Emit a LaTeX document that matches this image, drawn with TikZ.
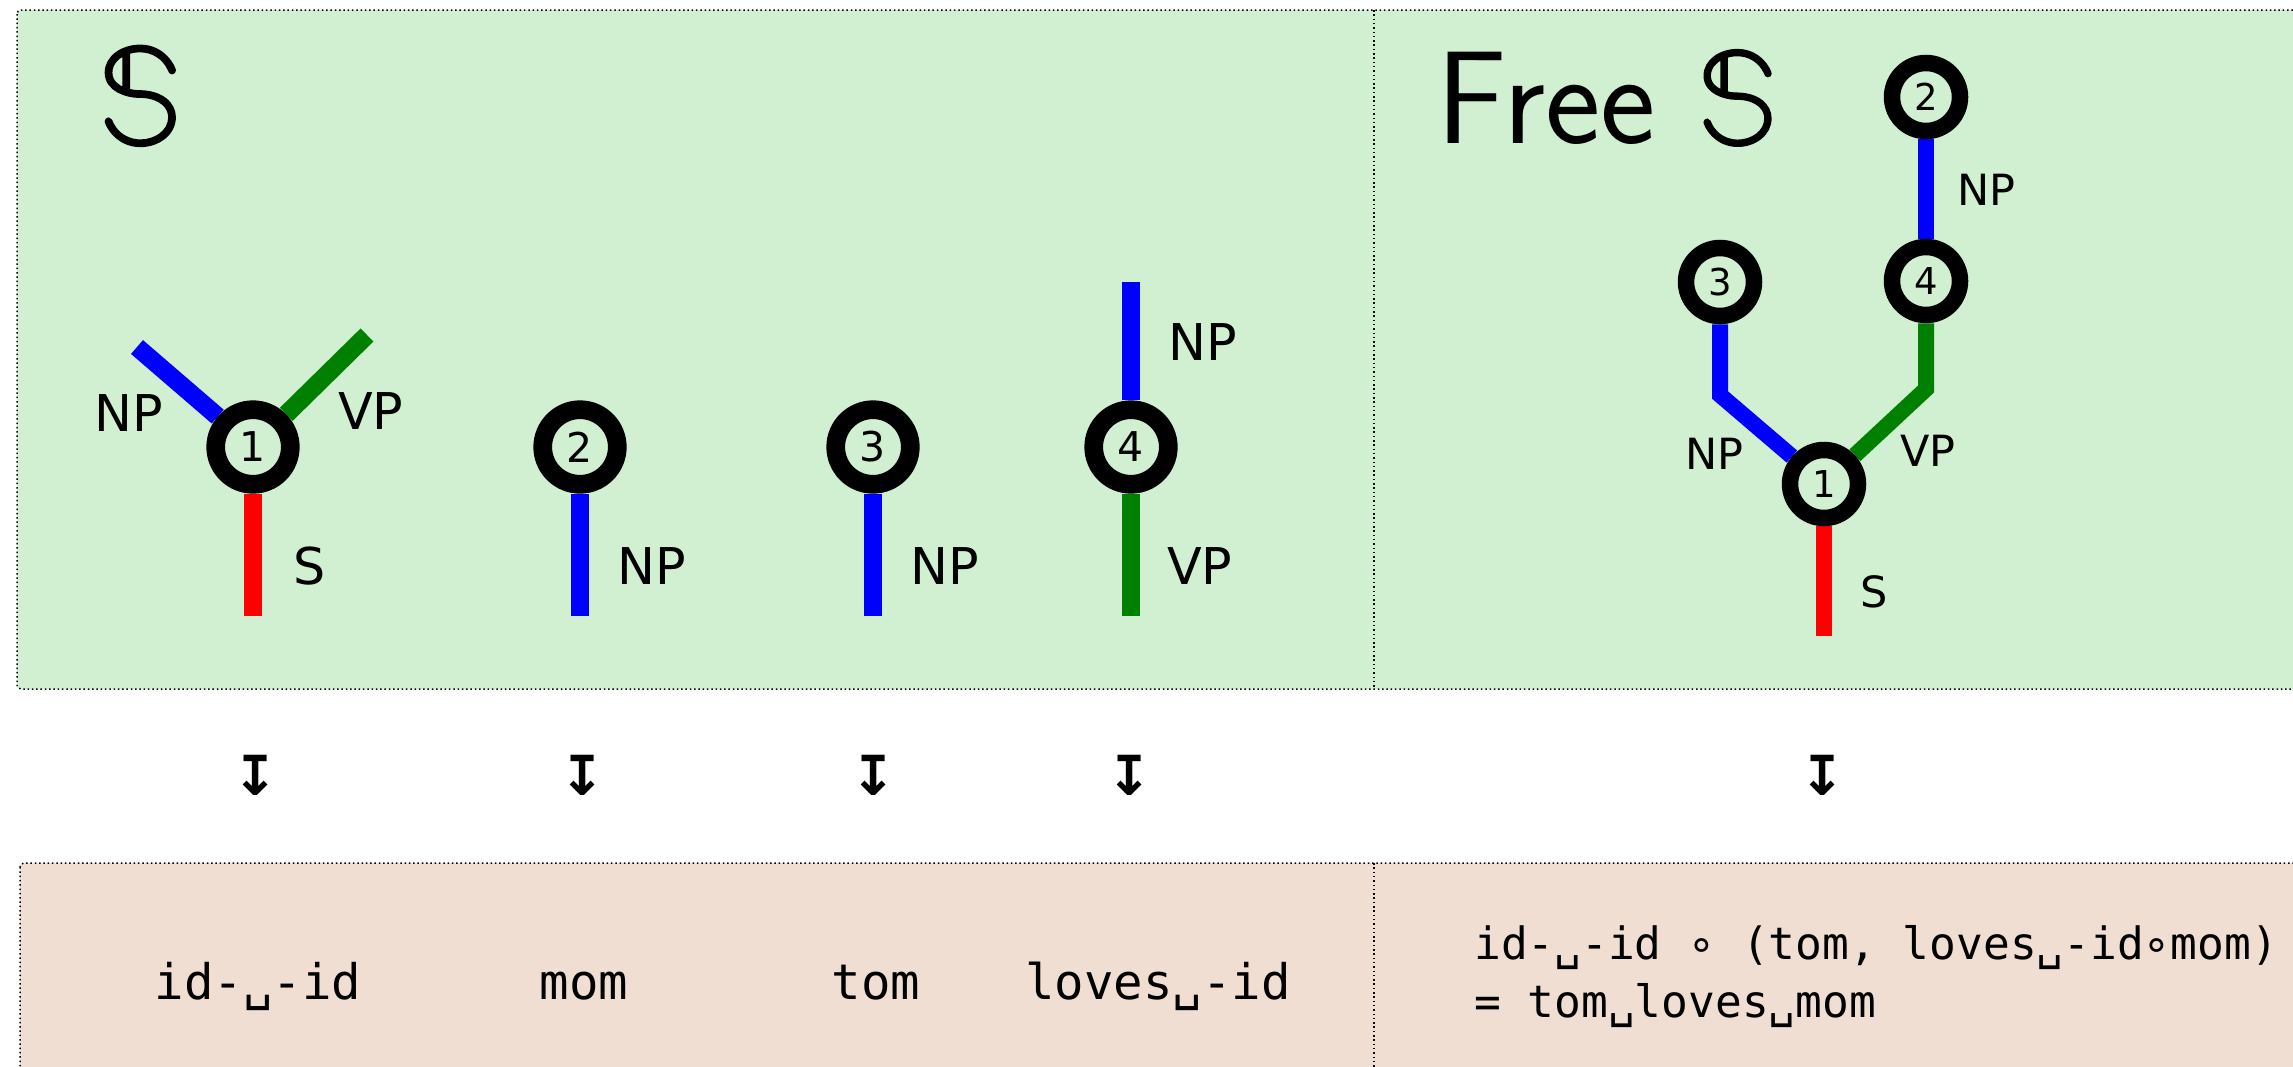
\documentclass[tikz,border=0pt]{standalone}
\usepackage{fontspec}
\newfontfamily\dvs{DejaVu Sans}
\newfontfamily\dvsm{DejaVu Sans Mono}
\newfontfamily\bbfont{Latin Modern Math}[FakeBold=1.6]
\definecolor{gbg}{RGB}{209,240,209}
\definecolor{pbg}{RGB}{240,222,210}
\definecolor{dgreen}{RGB}{0,128,0}
\pgfdeclarelayer{back}
\pgfdeclarelayer{mid}
\pgfsetlayers{back,mid,main}
\begin{document}
\begin{tikzpicture}[x=1pt,y=-1pt,
  ring/.style={circle,draw=black,fill=gbg,line width=18.7pt,minimum size=74.6pt,inner sep=0pt,font=\dvs\fontsize{41}{41}\selectfont},
  ringf/.style={circle,draw=black,fill=gbg,line width=16.5pt,minimum size=68pt,inner sep=0pt,font=\dvs\fontsize{37}{37}\selectfont},
  lbl/.style={inner sep=0pt,font=\dvs\fontsize{50.7}{50.7}\selectfont},
  lblf/.style={inner sep=0pt,font=\dvs\fontsize{43}{43}\selectfont},
  edge/.style={line width=18.3pt},
  edgef/.style={line width=16pt},
  box/.style={draw=black,line width=1.5pt,dash pattern=on 1.5pt off 2.8pt},
  arr/.style={inner sep=0pt,font=\dvs\bfseries\fontsize{55}{55}\selectfont},
  mono/.style={inner sep=0pt,anchor=base,font=\dvsm\fontsize{49}{49}\selectfont},
  monor/.style={inner sep=0pt,anchor=base west,font=\dvsm\fontsize{44.5}{44.5}\selectfont},
]
\useasboundingbox (0,0) rectangle (2293,1066);
\clip (0,0) rectangle (2293,1066);

% boxes
\begin{pgfonlayer}{back}
\draw[box,fill=gbg,rounded corners=4pt] (17,10) rectangle (2420,689);
\draw[box] (1374,10) -- (1374,689);
\draw[box,fill=pbg,rounded corners=4pt] (20,863) rectangle (2420,1200);
\draw[box] (1374,863) -- (1374,1200);
\end{pgfonlayer}

% titles
\node[anchor=base west,inner sep=0pt,font=\bbfont\fontsize{138}{138}\selectfont] (ts) at (98,143) {𝕊};
\node[anchor=base west,inner sep=0pt,font=\sffamily\fontsize{132}{132}\selectfont] (tf) at (1436,143) {Free {\bbfont 𝕊}};

% generators
\node[ring] (a1) at (253,447) {1};
\node[ring] (a2) at (580,447) {2};
\node[ring] (a3) at (873,447) {3};
\node[ring] (a4) at (1131,447) {4};
\coordinate (a1s) at (253,616);
\coordinate (a1n) at (137,347);
\coordinate (a1v) at (367,335);
\coordinate (a2s) at (580,616);
\coordinate (a3s) at (873,616);
\coordinate (a4n) at (1131,282);
\coordinate (a4s) at (1131,616);

\node[lbl,anchor=east] (l1n) at (163,413) {NP};
\node[lbl,anchor=west] (l1v) at (338,411) {VP};
\node[lbl,anchor=west] (l1s) at (293,566) {S};
\node[lbl,anchor=west] (l2n) at (617,566) {NP};
\node[lbl,anchor=west] (l3n) at (910,566) {NP};
\node[lbl,anchor=west] (l4n) at (1168,342) {NP};
\node[lbl,anchor=west] (l4v) at (1167,566) {VP};

% free operad tree
\node[ringf] (f1) at (1824,484) {1};
\node[ringf] (f2) at (1926,97) {2};
\node[ringf] (f3) at (1720,282) {3};
\node[ringf] (f4) at (1926,281) {4};
\coordinate (fb3) at (1720,395);
\coordinate (fb4) at (1926,389);
\coordinate (fs) at (1824,636);

\node[lblf,anchor=west] (lf2) at (1957,190) {NP};
\node[lblf,anchor=east] (lf3) at (1744,454) {NP};
\node[lblf,anchor=west] (lf4) at (1900,451) {VP};
\node[lblf,anchor=west] (lfs) at (1860,592) {S};

\begin{pgfonlayer}{mid}
\draw[edge,red] (a1) -- (a1s);
\draw[edge,blue] (a1) -- (a1n);
\draw[edge,dgreen] (a1) -- (a1v);
\draw[edge,blue] (a2) -- (a2s);
\draw[edge,blue] (a3) -- (a3s);
\draw[edge,blue] (a4) -- (a4n);
\draw[edge,dgreen] (a4) -- (a4s);
\draw[edgef,red] (f1) -- (fs);
\draw[edgef,blue] (f3) -- (fb3) -- (f1);
\draw[edgef,dgreen] (f4) -- (fb4) -- (f1);
\draw[edgef,blue] (f2) -- (f4);
\end{pgfonlayer}

% maps-to arrows
\node[arr] (m1) at (256,775) {↧};
\node[arr] (m2) at (583,775) {↧};
\node[arr] (m3) at (874,775) {↧};
\node[arr] (m4) at (1130,775) {↧};
\node[arr] (m5) at (1823,775) {↧};

% images
\node[mono] (t1) at (258,999) {id-␣-id};
\node[mono] (t2) at (584,999) {mom};
\node[mono] (t3) at (876,999) {tom};
\node[mono] (t4) at (1158,999) {loves␣-id};
\node[monor] (t5) at (1474,959) {id-␣-id ∘ (tom, loves␣-id∘mom)};
\node[monor] (t6) at (1474,1017) {= tom␣loves␣mom};
\end{tikzpicture}
\end{document}
